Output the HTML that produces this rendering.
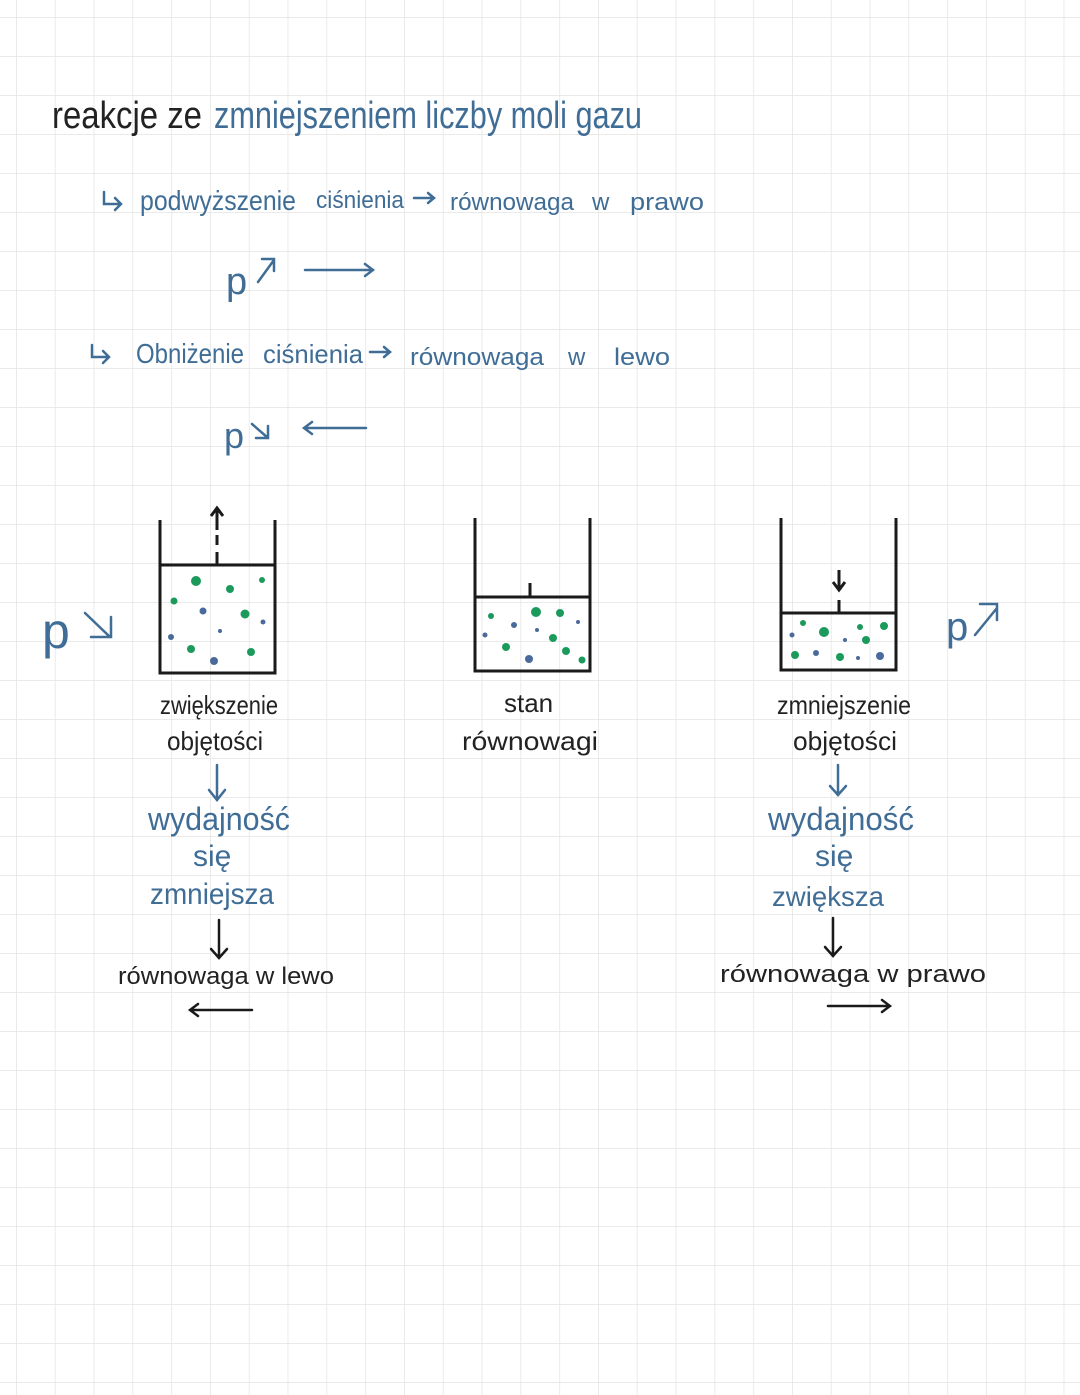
<!DOCTYPE html>
<html><head><meta charset="utf-8"><style>
html,body{margin:0;padding:0;background:#fff}
svg{display:block}
text{font-family:"Liberation Sans","DejaVu Sans",sans-serif}
.b{fill:#3f6d96}
.k{fill:#222}
</style></head><body>
<svg width="1080" height="1395" viewBox="0 0 1080 1395" xmlns="http://www.w3.org/2000/svg">
<defs>
<pattern id="g" x="16" y="17" width="38.8" height="39" patternUnits="userSpaceOnUse">
<path d="M0 0V39M0 0H38.8" stroke="#e4e4e4" stroke-width="1.5" fill="none"/>
</pattern>
</defs>
<rect width="1080" height="1395" fill="#fff"/>
<rect width="1080" height="1395" fill="url(#g)"/>

<text x="52" y="128" font-size="38" class="k" textLength="150" lengthAdjust="spacingAndGlyphs">reakcje ze</text>
<text x="214" y="128" font-size="38" class="b" textLength="428" lengthAdjust="spacingAndGlyphs">zmniejszeniem liczby moli gazu</text>

<g stroke="#3f6d96" stroke-width="2.5" fill="none" stroke-linecap="round">
<path d="M104 192v12h16M115 198l6 6-6 6"/>
<path d="M92 345v12h16M103 351l6 6-6 6"/>
<path d="M414 198h20M428 193l6 5-6 5"/>
<path d="M370 352h20M384 347l6 5-6 5"/>
<path d="M258 282l16-22M262 259h12v12"/>
<path d="M305 270h68M365 264l8 6-8 6"/>
<path d="M252 424l16 14M268 426v12h-12"/>
<path d="M304 428h62M312 422l-8 6 8 6"/>
<path d="M85 613l25 24M111 617v20h-20"/>
<path d="M975 635l22-27M980 604h17v16"/>
<path d="M217 765v35M209 790l8 10 8-10"/>
<path d="M838 765v30M830 786l8 9 8-9"/>
</g>

<text x="140" y="210" font-size="28" class="b" textLength="156" lengthAdjust="spacingAndGlyphs">podwyższenie</text>
<text x="316" y="208" font-size="24" class="b" textLength="88" lengthAdjust="spacingAndGlyphs">ciśnienia</text>
<text x="450" y="210" font-size="24" class="b" textLength="124" lengthAdjust="spacingAndGlyphs">równowaga</text>
<text x="592" y="210" font-size="24" class="b">w</text>
<text x="630" y="210" font-size="24" class="b" textLength="74" lengthAdjust="spacingAndGlyphs">prawo</text>
<text x="136" y="363" font-size="28" class="b" textLength="108" lengthAdjust="spacingAndGlyphs">Obniżenie</text>
<text x="263" y="363" font-size="26" class="b" textLength="100" lengthAdjust="spacingAndGlyphs">ciśnienia</text>
<text x="410" y="365" font-size="24" class="b" textLength="134" lengthAdjust="spacingAndGlyphs">równowaga</text>
<text x="568" y="365" font-size="24" class="b">w</text>
<text x="614" y="365" font-size="24" class="b" textLength="56" lengthAdjust="spacingAndGlyphs">lewo</text>
<text x="226" y="294" font-size="38" class="b">p</text>
<text x="224" y="448" font-size="36" class="b">p</text>
<text x="42" y="648" font-size="50" class="b">p</text>
<text x="946" y="640" font-size="40" class="b">p</text>

<g stroke="#1a1a1a" stroke-width="3" fill="none">
<path d="M160 520V673H275V520M160 565H275M217 565V552M217 545V535M217 508V530M211 516l6-8 6 8"/>
<path d="M475 518V671H590V518M475 597H590M530 597V583"/>
<path d="M781 518V670H896V518M781 613H896M839 613V600M839 570V590M833 582l6 8 6-8"/>
</g>
<g fill="#1c9a5c">
<circle cx="196" cy="581" r="5"/><circle cx="230" cy="589" r="4"/><circle cx="262" cy="580" r="3"/>
<circle cx="174" cy="601" r="3.5"/><circle cx="245" cy="614" r="4.5"/><circle cx="191" cy="649" r="4"/><circle cx="251" cy="652" r="4"/>
<circle cx="491" cy="616" r="3"/><circle cx="536" cy="612" r="5"/><circle cx="560" cy="613" r="4"/><circle cx="553" cy="638" r="4"/><circle cx="506" cy="647" r="4"/><circle cx="566" cy="651" r="4"/><circle cx="582" cy="660" r="3.5"/>
<circle cx="803" cy="623" r="3"/><circle cx="824" cy="632" r="5"/><circle cx="866" cy="640" r="4"/><circle cx="884" cy="626" r="4"/><circle cx="795" cy="655" r="4"/><circle cx="840" cy="657" r="4"/><circle cx="860" cy="627" r="3"/>
</g>
<g fill="#4a6a9c">
<circle cx="203" cy="611" r="3.5"/><circle cx="263" cy="622" r="2.5"/><circle cx="171" cy="637" r="3"/><circle cx="220" cy="631" r="2"/><circle cx="214" cy="661" r="4"/>
<circle cx="514" cy="625" r="3"/><circle cx="485" cy="635" r="2.5"/><circle cx="537" cy="630" r="2"/><circle cx="578" cy="622" r="2"/><circle cx="529" cy="659" r="4"/>
<circle cx="792" cy="635" r="2.5"/><circle cx="816" cy="653" r="3"/><circle cx="845" cy="640" r="2"/><circle cx="880" cy="656" r="4"/><circle cx="858" cy="658" r="2"/>
</g>

<text x="160" y="714" font-size="26" class="k" textLength="118" lengthAdjust="spacingAndGlyphs">zwiększenie</text>
<text x="167" y="750" font-size="26" class="k" textLength="96" lengthAdjust="spacingAndGlyphs">objętości</text>
<text x="504" y="712" font-size="26" class="k">stan</text>
<text x="462" y="750" font-size="26" class="k" textLength="136" lengthAdjust="spacingAndGlyphs">równowagi</text>
<text x="777" y="714" font-size="26" class="k" textLength="134" lengthAdjust="spacingAndGlyphs">zmniejszenie</text>
<text x="793" y="750" font-size="26" class="k" textLength="104" lengthAdjust="spacingAndGlyphs">objętości</text>

<text x="148" y="830" font-size="32" class="b" textLength="142" lengthAdjust="spacingAndGlyphs">wydajność</text>
<text x="193" y="866" font-size="30" class="b">się</text>
<text x="150" y="904" font-size="30" class="b" textLength="124" lengthAdjust="spacingAndGlyphs">zmniejsza</text>
<text x="768" y="830" font-size="32" class="b" textLength="146" lengthAdjust="spacingAndGlyphs">wydajność</text>
<text x="815" y="866" font-size="30" class="b">się</text>
<text x="772" y="906" font-size="28" class="b" textLength="112" lengthAdjust="spacingAndGlyphs">zwiększa</text>

<g stroke="#1a1a1a" stroke-width="2.5" fill="none" stroke-linecap="round">
<path d="M219 920v38M211 949l8 9 8-9"/>
<path d="M833 918v38M825 947l8 9 8-9"/>
<path d="M190 1010h62M198 1004l-8 6 8 6"/>
<path d="M828 1006h62M882 1000l8 6-8 6"/>
</g>
<text x="118" y="984" font-size="24" class="k" textLength="216" lengthAdjust="spacingAndGlyphs">równowaga w lewo</text>
<text x="720" y="982" font-size="24" class="k" textLength="266" lengthAdjust="spacingAndGlyphs">równowaga  w  prawo</text>
</svg>
</body></html>
